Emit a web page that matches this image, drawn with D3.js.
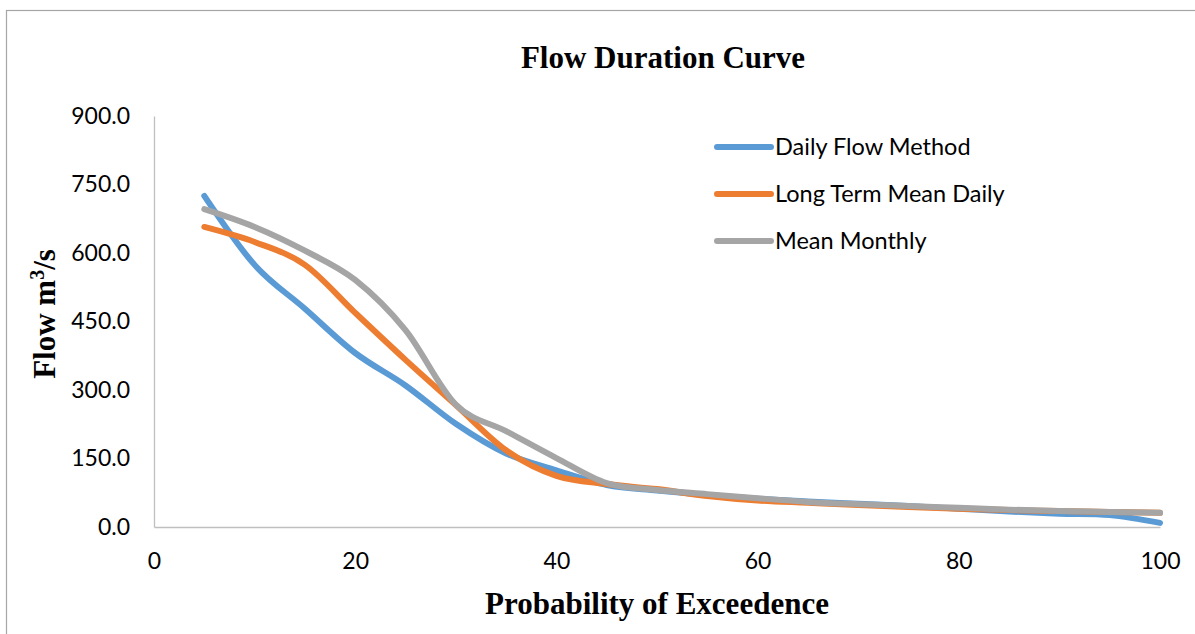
<!DOCTYPE html>
<html><head><meta charset="utf-8">
<script src="https://cdn.jsdelivr.net/npm/d3@7"></script>
<style>body{margin:0;background:#fff}svg{display:block}</style>
</head><body>
<svg id="c" width="1195" height="634"></svg>
<script>
const probability = [5,10,15,20,25,30,35,40,45,50,55,60,65,70,75,80,85,90,95,100];
const dailyFlow   = [725,574,478,381,310,226,161,124,92,80,70,62,56,51,46,40,34,29,26,9];
const longTermMeanDaily = [657,624,574,469,366,267,168,112,94,83,68,58,53,48,44,40,37,35,33,31];
const meanMonthly = [696,657,605,541,431,268,210,151,96,81,72,63,55,50,46,42,38,35,33,31];
const seriesNames = ["Daily Flow Method","Long Term Mean Daily","Mean Monthly"];
const yTicks = [0,150,300,450,600,750,900];
const xTicks = [0,20,40,60,80,100];
const colors = ["#5B9BD5","#ED7D31","#A5A5A5"];

const svg = d3.select("#c");
svg.append("rect").attr("x",6.5).attr("y",10.5).attr("width",1200).attr("height",640)
  .attr("fill","#fff").attr("stroke","#A6A6A6").attr("stroke-width",1.2);

const x = d3.scaleLinear().domain([0,100]).range([154,1160]);
const y = d3.scaleLinear().domain([0,900]).range([527,116]);
const tickFont = "Lato, 'Open Sans', sans-serif";

const yAxis = svg.append("g").attr("transform","translate(154,0)")
  .call(d3.axisLeft(y).tickValues(yTicks).tickSize(0).tickPadding(24).tickFormat(d3.format(".1f")));
yAxis.select(".domain").attr("stroke","#BFBFBF").attr("stroke-width",1.3);
yAxis.selectAll("text").attr("font-family",tickFont).attr("font-size",23).attr("fill","#000");

const xAxis = svg.append("g").attr("transform","translate(0,527)")
  .call(d3.axisBottom(x).tickValues(xTicks).tickSize(0).tickPadding(26));
xAxis.select(".domain").attr("stroke","#BFBFBF").attr("stroke-width",1.3);
xAxis.selectAll("text").attr("font-family",tickFont).attr("font-size",23).attr("fill","#000");

const all = [dailyFlow,longTermMeanDaily,meanMonthly];
const line = d3.line().x((d,i)=>x(probability[i])).y(d=>y(d)).curve(d3.curveCatmullRom.alpha(0));
[0,1,2].forEach(k=>{
  svg.append("path").datum(all[k]).attr("d",line).attr("fill","none")
    .attr("stroke",colors[k]).attr("stroke-width",6).attr("stroke-linecap","round").attr("stroke-linejoin","round");
});

seriesNames.forEach((n,i)=>{
  const ly = 147 + i*47;
  svg.append("line").attr("x1",717).attr("x2",771).attr("y1",ly).attr("y2",ly)
    .attr("stroke",colors[i]).attr("stroke-width",6).attr("stroke-linecap","round");
  svg.append("text").attr("x",775).attr("y",ly+8).text(n)
    .attr("font-family",tickFont).attr("font-size",23.5).attr("fill","#000");
});

const serif = "'Liberation Serif', 'Times New Roman', serif";
svg.append("text").attr("x",663).attr("y",68).attr("text-anchor","middle")
  .attr("font-family",serif).attr("font-weight","bold").attr("font-size",31).text("Flow Duration Curve");
svg.append("text").attr("x",657).attr("y",614).attr("text-anchor","middle")
  .attr("font-family",serif).attr("font-weight","bold").attr("font-size",31).text("Probability of Exceedence");
const yt = svg.append("text").attr("transform","translate(55,314) rotate(-90)").attr("text-anchor","middle")
  .attr("font-family",serif).attr("font-weight","bold").attr("font-size",31);
yt.append("tspan").text("Flow m");
yt.append("tspan").attr("dy",-11).attr("font-size",20).text("3");
yt.append("tspan").attr("dy",11).text("/s");
</script>
</body></html>
